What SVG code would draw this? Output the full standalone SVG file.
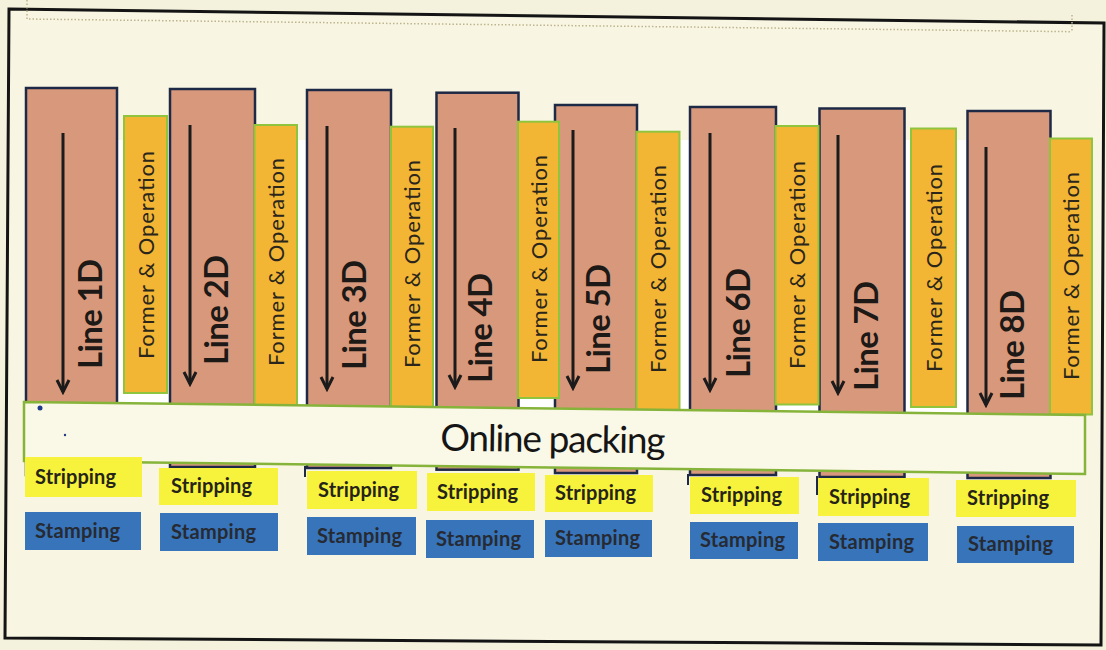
<svg xmlns="http://www.w3.org/2000/svg" width="1106" height="650" viewBox="0 0 1106 650">
<defs>
<style>
.bg{fill:#f4f2dc}
.frame{fill:#f8f6e3;stroke:#141414;stroke-width:3}
.dot{stroke:#bdb48e;stroke-width:1.5;stroke-dasharray:1.5 2;fill:none}
.line{fill:#d8987b;stroke:#1e2a45;stroke-width:2.5}
.former{fill:#f3b534;stroke:#8fc43f;stroke-width:2}
.pack{fill:#faf8e7;stroke:#86b43a;stroke-width:2.5}
.strip{fill:#f7f33c}
.stamp{fill:#3874b9}
.lt{font-family:Lato,"Liberation Sans",sans-serif;font-weight:700;font-size:33px;fill:#1c1916}
.ft{font-family:Lato,"Liberation Sans",sans-serif;font-size:22px;fill:#2a261c}
.pt{font-family:Lato,"Liberation Sans",sans-serif;font-size:37px;fill:#151515}
.st{font-family:Lato,"Liberation Sans",sans-serif;font-weight:700;font-size:20px;fill:#262418}
.mt{font-family:Lato,"Liberation Sans",sans-serif;font-weight:700;font-size:20px;fill:#262a33}
.arr{stroke:#1b1b1b;stroke-width:3;fill:none}
.tick{stroke:#1e2a45;stroke-width:2}
</style>
<marker id="ah" markerWidth="16" markerHeight="16" refX="13" refY="7" orient="auto" markerUnits="userSpaceOnUse" viewBox="0 0 16 14">
<path d="M1,1 L13,7 L1,13" fill="none" stroke="#1b1b1b" stroke-width="3"/>
</marker>
</defs>
<rect class="bg" x="0" y="0" width="1106" height="650"/>
<polygon class="frame" points="9,9 1104,23 1101,645 5,638"/>
<path class="dot" d="M27,0 L27,19 L1072,31.7 M1072,15 L1072,31.7"/>
<rect x="26" y="140" width="1064" height="274" fill="#ffffff"/>

<g id="line1"><rect class="line" x="26" y="88" width="91" height="387"/><text class="lt" transform="translate(102,314) rotate(-90)" text-anchor="middle" textLength="110">Line 1D</text></g>
<g id="line2"><rect class="line" x="170" y="89" width="85" height="378"/><text class="lt" transform="translate(228,310) rotate(-90)" text-anchor="middle" textLength="110">Line 2D</text></g>
<g id="line3"><rect class="line" x="307" y="90" width="84" height="378"/><line class="tick" x1="305" y1="466" x2="305" y2="477"/><text class="lt" transform="translate(366,315) rotate(-90)" text-anchor="middle" textLength="110">Line 3D</text></g>
<g id="line4"><rect class="line" x="436.5" y="92.7" width="82" height="377"/><text class="lt" transform="translate(492,328) rotate(-90)" text-anchor="middle" textLength="110">Line 4D</text></g>
<g id="line5"><rect class="line" x="555" y="105" width="82" height="368"/><text class="lt" transform="translate(610,319) rotate(-90)" text-anchor="middle" textLength="110">Line 5D</text></g>
<g id="line6"><rect class="line" x="690" y="107" width="86" height="368"/><line class="tick" x1="688" y1="474" x2="688" y2="485"/><text class="lt" transform="translate(750,323) rotate(-90)" text-anchor="middle" textLength="110">Line 6D</text></g>
<g id="line7"><rect class="line" x="819.5" y="108.5" width="85" height="368.5"/><line class="tick" x1="817" y1="476" x2="817" y2="495"/><text class="lt" transform="translate(878,336) rotate(-90)" text-anchor="middle" textLength="110">Line 7D</text></g>
<g id="line8"><rect class="line" x="967.5" y="111" width="83" height="367"/><text class="lt" transform="translate(1024,345) rotate(-90)" text-anchor="middle" textLength="110">Line 8D</text></g>

<g id="connectors">
<path class="arr" d="M63,133 V392" marker-end="url(#ah)"/>
<path class="arr" d="M190,125 V384" marker-end="url(#ah)"/>
<path class="arr" d="M327,126 V389" marker-end="url(#ah)"/>
<path class="arr" d="M455,128 V387" marker-end="url(#ah)"/>
<path class="arr" d="M573,130 V388" marker-end="url(#ah)"/>
<path class="arr" d="M710,133 V390" marker-end="url(#ah)"/>
<path class="arr" d="M838,135 V393" marker-end="url(#ah)"/>
<path class="arr" d="M986,147 V405" marker-end="url(#ah)"/>
</g>

<g id="former1"><rect class="former" x="124" y="116" width="43" height="277"/><text class="ft" transform="translate(153.5,255) rotate(-90)" text-anchor="middle" textLength="208">Former &amp; Operation</text></g>
<g id="former2"><rect class="former" x="254.5" y="125" width="42.5" height="285"/><text class="ft" transform="translate(283.5,262) rotate(-90)" text-anchor="middle" textLength="208">Former &amp; Operation</text></g>
<g id="former3"><rect class="former" x="391" y="126.7" width="42" height="285"/><text class="ft" transform="translate(420,264) rotate(-90)" text-anchor="middle" textLength="208">Former &amp; Operation</text></g>
<g id="former4"><rect class="former" x="518" y="121.7" width="41" height="276.3"/><text class="ft" transform="translate(546.5,259) rotate(-90)" text-anchor="middle" textLength="208">Former &amp; Operation</text></g>
<g id="former5"><rect class="former" x="636.5" y="131.7" width="43" height="281"/><text class="ft" transform="translate(666,269) rotate(-90)" text-anchor="middle" textLength="208">Former &amp; Operation</text></g>
<g id="former6"><rect class="former" x="775.5" y="126" width="43" height="278.5"/><text class="ft" transform="translate(805,265) rotate(-90)" text-anchor="middle" textLength="208">Former &amp; Operation</text></g>
<g id="former7"><rect class="former" x="911" y="128.5" width="45" height="278.5"/><text class="ft" transform="translate(941.5,268) rotate(-90)" text-anchor="middle" textLength="208">Former &amp; Operation</text></g>
<g id="former8"><rect class="former" x="1050" y="138.5" width="42" height="276"/><text class="ft" transform="translate(1079,276) rotate(-90)" text-anchor="middle" textLength="208">Former &amp; Operation</text></g>

<g id="packing">
<polygon class="pack" points="24,402 1085,415 1085,474 24,461"/>
<text class="pt" x="553" y="452" text-anchor="middle" textLength="225" transform="rotate(0.7 553 440)">Online packing</text>
<circle cx="40" cy="408" r="2.5" fill="#1f3a8a"/>
<circle cx="65" cy="435" r="1.2" fill="#1f3a8a"/>
</g>

<g id="strip1"><rect class="strip" x="25" y="457" width="117" height="40"/><text class="st" x="35" y="483.5" textLength="81">Stripping</text></g>
<g id="strip2"><rect class="strip" x="159" y="468" width="119" height="37"/><text class="st" x="171" y="493" textLength="81">Stripping</text></g>
<g id="strip3"><rect class="strip" x="307" y="471" width="110" height="38"/><text class="st" x="318" y="496.5" textLength="81">Stripping</text></g>
<g id="strip4"><rect class="strip" x="427" y="473" width="108" height="38"/><text class="st" x="437" y="498.5" textLength="81">Stripping</text></g>
<g id="strip5"><rect class="strip" x="545" y="475" width="108" height="37"/><text class="st" x="555" y="500" textLength="81">Stripping</text></g>
<g id="strip6"><rect class="strip" x="690" y="477" width="109" height="37"/><text class="st" x="701" y="502" textLength="81">Stripping</text></g>
<g id="strip7"><rect class="strip" x="818" y="478" width="111" height="38"/><text class="st" x="829" y="503.5" textLength="81">Stripping</text></g>
<g id="strip8"><rect class="strip" x="956" y="480" width="120" height="37"/><text class="st" x="967" y="505" textLength="82">Stripping</text></g>

<g id="stamp1"><rect class="stamp" x="25" y="512" width="116" height="38"/><text class="mt" x="35" y="537.5" textLength="85">Stamping</text></g>
<g id="stamp2"><rect class="stamp" x="160" y="513" width="118" height="38"/><text class="mt" x="171" y="538.5" textLength="85">Stamping</text></g>
<g id="stamp3"><rect class="stamp" x="307" y="517" width="109" height="38"/><text class="mt" x="317" y="542.5" textLength="85">Stamping</text></g>
<g id="stamp4"><rect class="stamp" x="426" y="520" width="108" height="38"/><text class="mt" x="436" y="545.5" textLength="85">Stamping</text></g>
<g id="stamp5"><rect class="stamp" x="545" y="520" width="107" height="37"/><text class="mt" x="555" y="545" textLength="85">Stamping</text></g>
<g id="stamp6"><rect class="stamp" x="690" y="522" width="108" height="37"/><text class="mt" x="700" y="547" textLength="85">Stamping</text></g>
<g id="stamp7"><rect class="stamp" x="818" y="523" width="110" height="38"/><text class="mt" x="829" y="548.5" textLength="85">Stamping</text></g>
<g id="stamp8"><rect class="stamp" x="957" y="526" width="117" height="37"/><text class="mt" x="968" y="551" textLength="85">Stamping</text></g>
</svg>
